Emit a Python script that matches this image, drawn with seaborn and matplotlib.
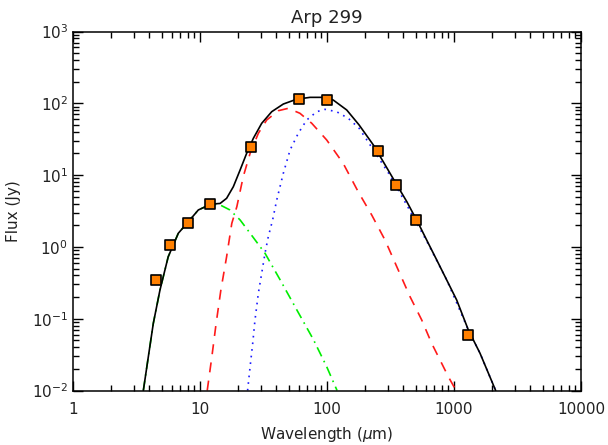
import numpy as np
import pandas as pd
import matplotlib
matplotlib.use("Agg")
import matplotlib.pyplot as plt
import matplotlib.ticker as mticker
import seaborn as sns

# ---- data ----
obs_wave = [4.5, 5.8, 8.0, 12, 25, 60, 100, 250, 350, 500, 1300]
obs_flux = [0.344, 1.08, 2.18, 3.99, 24.5, 114, 111, 21.8, 7.26, 2.34, 0.0586]

green_wave = [3.58, 3.92, 4.29, 4.84, 5.62, 6.75, 8.09, 9.70, 12.2, 14.4, 17.2,
              20.7, 24.8, 32.5, 42.7, 57.8, 78.2, 99.5, 120]
green_flux = [0.01, 0.0296, 0.0863, 0.251, 0.729, 1.55, 2.24, 3.27, 3.94, 3.84, 3.27,
              2.37, 1.55, 0.815, 0.349, 0.133, 0.0511, 0.0214, 0.01]

red_wave = [11.4, 12.4, 13.4, 14.6, 16.2, 17.8, 19.5, 21.9, 24.8, 28.8, 33.5, 41.4,
            49.5, 61.2, 75.9, 99.5, 134, 176, 225, 286, 364, 451, 557, 667, 776, 902, 1038]
red_flux = [0.01, 0.0296, 0.0863, 0.251, 0.729, 2.13, 3.63, 9.51, 20.1, 38.2, 58.5, 78.9,
            85.1, 72.6, 52.6, 30.8, 14.6, 5.87, 2.78, 1.25, 0.476, 0.202, 0.0959, 0.0454,
            0.0266, 0.0156, 0.01]

blue_wave = [23.7, 24.8, 26.0, 27.1, 28.8, 30.6, 32.5, 34.5, 37.3, 40.2, 45.3, 51.2,
             59.4, 69.2, 83.0, 96.4, 119, 147, 179, 232, 313, 425, 603, 877, 1297, 1603, 2128]
blue_flux = [0.01, 0.0214, 0.0454, 0.0959, 0.226, 0.429, 0.815, 1.39, 2.37, 4.50, 10.6, 22.4,
             38.2, 58.5, 76.4, 82.4, 76.4, 61.8, 44.9, 22.4, 9.95, 3.82, 1.25, 0.346, 0.0697,
             0.033, 0.01]

total_wave = [3.58, 3.92, 4.29, 4.84, 5.62, 6.75, 8.09, 9.70, 12.2, 14.4, 16.2, 18.3, 20.7,
              23.3, 26.3, 30.6, 36.7, 45.3, 57.7, 73.5, 90.8, 112, 143, 179, 232, 277, 343,
              425, 524, 628, 731, 1050, 1297, 1603, 2128]
total_flux = [0.01, 0.0296, 0.0863, 0.251, 0.729, 1.55, 2.24, 3.27, 3.94, 4.03, 4.75, 6.89,
              11.8, 20.1, 32.5, 52.6, 76.4, 97.7, 114, 121, 121, 111, 80.7, 49.9, 26.2, 15.4,
              8.09, 4.27, 2.13, 1.12, 0.658, 0.182, 0.0697, 0.033, 0.01]

x_ticks = [1, 10, 100, 1000, 10000]
x_tick_labels = ["1", "10", "100", "1000", "10000"]

title = "Arp 299"
xlabel = r"Wavelength ($\mu$m)"
ylabel = "Flux (Jy)"

# ---- style ----
sns.set_style("ticks")
plt.rcParams["font.family"] = ["DejaVu Sans"]
plt.rcParams["mathtext.fontset"] = "dejavusans"
txt_color = "#222222"

fig = plt.figure(figsize=(6.08, 4.45), dpi=100)
ax = fig.add_axes([73 / 608, 1 - 390.5 / 445, (581 - 73) / 608, (390.5 - 31.5) / 445])

sns.lineplot(x=green_wave, y=green_flux, ax=ax, color="#00ee00", lw=1.2,
             linestyle=(0, (6, 3, 1, 3)))
sns.lineplot(x=red_wave, y=red_flux, ax=ax, color="#ff1a1a", lw=1.2,
             linestyle=(0, (6, 5)))
sns.lineplot(x=blue_wave, y=blue_flux, ax=ax, color="#1a1aff", lw=1.2,
             linestyle=(0, (1, 3)))
sns.lineplot(x=total_wave, y=total_flux, ax=ax, color="black", lw=1.2)

obs = pd.DataFrame({"wave": obs_wave, "flux": obs_flux})
sns.scatterplot(data=obs, x="wave", y="flux", ax=ax, marker="s", s=62,
                color="#ff8000", edgecolor="black", linewidth=1.2, zorder=5)

ax.set_xscale("log")
ax.set_yscale("log")
ax.set_xlim(1, 10000)
ax.set_ylim(1e-2, 1e3)
ax.xaxis.set_major_locator(mticker.FixedLocator(x_ticks))
ax.xaxis.set_major_formatter(mticker.FixedFormatter(x_tick_labels))
ax.xaxis.set_minor_locator(mticker.LogLocator(base=10, subs=np.arange(2, 10)))
ax.yaxis.set_minor_locator(mticker.LogLocator(base=10, subs=np.arange(2, 10)))
ax.xaxis.set_minor_formatter(mticker.NullFormatter())
ax.yaxis.set_minor_formatter(mticker.NullFormatter())

ax.tick_params(which="both", direction="in", top=True, right=True,
               labelsize=11, labelcolor=txt_color, color="black")
ax.tick_params(which="major", length=7, width=1)
ax.tick_params(which="minor", length=4, width=1)
ax.tick_params(axis="x", pad=8)
for sp in ax.spines.values():
    sp.set_linewidth(1.1)
    sp.set_color("black")

ax.set_title(title, fontsize=13, color=txt_color, pad=6)
ax.set_xlabel(xlabel, fontsize=11, color=txt_color, labelpad=6)
ax.set_ylabel(ylabel, fontsize=11, color=txt_color, labelpad=8)

fig.savefig("out.png", dpi=100)
